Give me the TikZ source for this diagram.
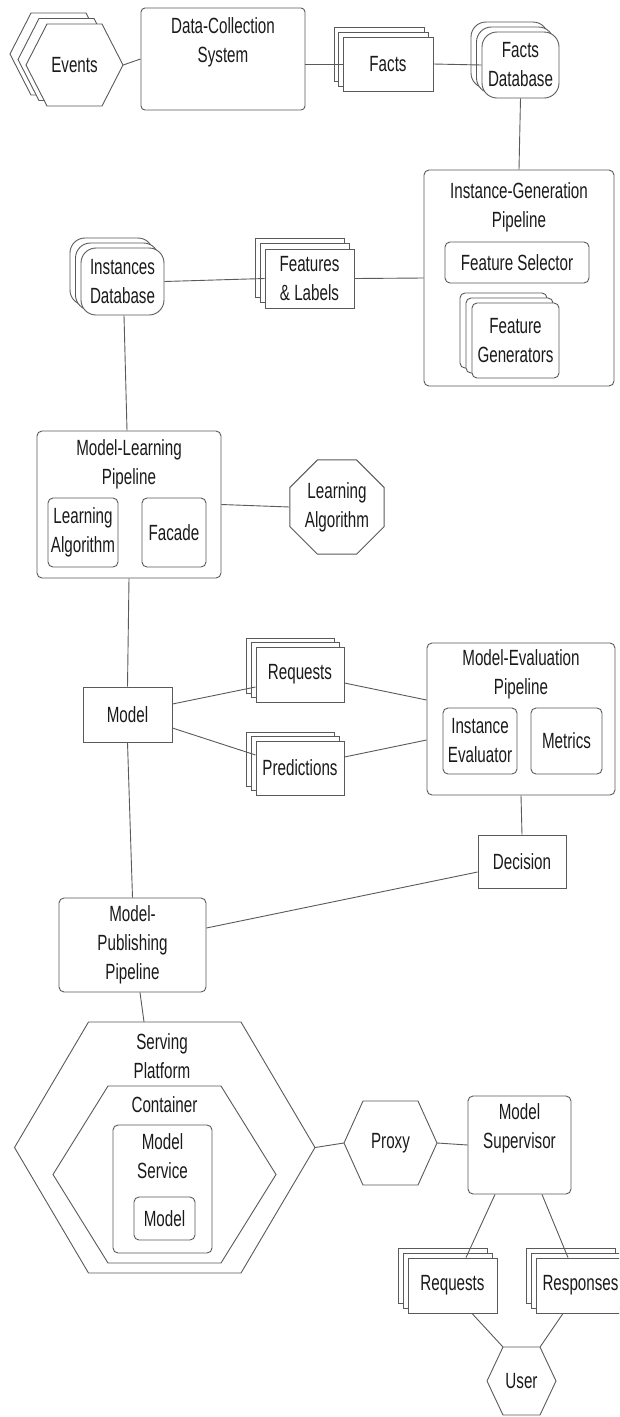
\documentclass[tikz,border=0pt]{standalone}
\usepackage{fontspec}
\setmainfont{Liberation Sans}[FakeStretch=0.69]
\usetikzlibrary{shapes.geometric,shadows}

\definecolor{linecol}{HTML}{5A5A5A}
\definecolor{inkcol}{HTML}{1A1A1A}

% hexagon outline: centre x, centre y, width, height, corner inset
\newcommand\hexagonat[5]{%
  \draw[draw=linecol, line width=0.9pt, fill=white]
    ({#1-#3/2},{#2}) -- ({#1-#3/2+#5},{#2-#4/2}) -- ({#1+#3/2-#5},{#2-#4/2})
    -- ({#1+#3/2},{#2}) -- ({#1+#3/2-#5},{#2+#4/2}) -- ({#1-#3/2+#5},{#2+#4/2}) -- cycle;}

\begin{document}
\begin{tikzpicture}[x=1pt,y=-1pt,
  every node/.style={font=\fontsize{22}{29}\selectfont, text=inkcol, align=center, inner sep=0pt},
  conn/.style={draw=linecol, line width=0.9pt},
  sq/.style 2 args={draw=linecol, line width=0.9pt, fill=white, minimum width=#1pt, minimum height=#2pt},
  rbox/.style 2 args={sq={#1}{#2}, rounded corners=5pt},
  dbase/.style 2 args={sq={#1}{#2}, rounded corners=15pt},
  stack/.style n args={4}{
    copy shadow={shadow xshift=#3, shadow yshift=#4, fill=white, draw=linecol, line width=0.9pt},
    copy shadow={shadow xshift=#1, shadow yshift=#2, fill=white, draw=linecol, line width=0.9pt}},
  hexcore/.style 2 args={minimum width=#1pt, minimum height=#2pt},
]
\useasboundingbox (0,0) rectangle (619,1417);
\fill[white] (0,0) rectangle (619,1417);
\clip (0,0) rectangle (619,1417);

% --- data collection -------------------------------------------------
\hexagonat{58.5}{54}{97}{82}{21}
\hexagonat{66.5}{59.5}{97}{82}{21}
\hexagonat{74.5}{65}{97}{82}{21}
\node[hexcore={97}{82}] (events) at (74.5,65) {Events};

\node[rbox={164}{102}, rounded corners=4pt] (dcs) at (223,59) {};
\node (dcstitle) at (223,42.5) {Data-Collection\\System};

\node[sq={90}{54}, stack={-4.5pt}{5pt}{-9pt}{10pt}] (facts) at (388,64) {Facts};
\node[dbase={77}{66}, stack={-5.5pt}{5pt}{-11pt}{10pt}] (factsdb) at (520.5,65) {Facts\\Database};

% --- instance generation ---------------------------------------------
\node[rbox={190}{216}] (igp) at (519,278) {};
\node (igtitle) at (519,207.5) {Instance-Generation\\Pipeline};
\node[rbox={144}{41}] (fsel) at (517,262.5) {Feature Selector};
\node[rbox={87}{75}, stack={-6pt}{5pt}{-12pt}{10pt}] (fgen) at (515.5,340.5) {Feature\\Generators};

\node[dbase={83}{67}, stack={-5.5pt}{5pt}{-11pt}{10pt}] (idb) at (122.5,281.5) {Instances\\Database};
\node[sq={89}{59}, stack={-5pt}{5.5pt}{-10pt}{11pt}] (feat) at (309.5,278.5) {Features\\\& Labels};

% --- model learning --------------------------------------------------
\node[rbox={184}{147}] (mlp) at (129,504.5) {};
\node (mltitle) at (129,464) {Model-Learning\\Pipeline};
\node[rbox={70}{69}] (mlalgo) at (83,532.5) {Learning\\Algorithm};
\node[rbox={64}{69}] (facade) at (174,532.5) {Facade};

\node[draw=linecol, line width=0.9pt, regular polygon, regular polygon sides=8,
      minimum size=102pt] (algo) at (337,507) {Learning\\Algorithm};

\node[sq={89}{55}] (model) at (127.5,714.5) {Model};

% --- model evaluation ------------------------------------------------
\node[sq={88}{55}, stack={-5pt}{4.5pt}{-10pt}{9pt}] (evreq) at (300,674.5) {Requests};
\node[sq={88}{54}, stack={-5pt}{4.5pt}{-10pt}{9pt}] (evpred) at (300,768) {Predictions};

\node[rbox={188}{152}] (mep) at (521,719) {};
\node (metitle) at (521,674) {Model-Evaluation\\Pipeline};
\node[rbox={74}{66}] (ieval) at (480,741) {Instance\\Evaluator};
\node[rbox={71}{66}] (metrics) at (566.5,741) {Metrics};

\node[sq={88}{53}] (decision) at (522,861.5) {Decision};

\node[rbox={147}{94}] (mpp) at (132.5,945) {Model-\\Publishing\\Pipeline};

% --- serving ---------------------------------------------------------
\hexagonat{164.75}{1147.5}{300.5}{251}{74}
\node[hexcore={300.5}{251}] (serving) at (164.75,1147.5) {};
\node (servtitle) at (162,1056.5) {Serving\\Platform};
\hexagonat{164.5}{1174.5}{223}{177}{55}
\node[hexcore={223}{177}] (container) at (164.5,1174.5) {};
\node (conttitle) at (164.5,1105) {Container};
\node[rbox={99}{128}] (msvc) at (162.5,1189) {};
\node (msvctitle) at (162.5,1156) {Model\\Service};
\node[rbox={61}{43}] (smodel) at (164.5,1218.5) {Model};

\hexagonat{390.5}{1143}{93}{84}{19}
\node[hexcore={93}{84}] (proxy) at (390.5,1143) {Proxy};

\node[rbox={103}{98}] (msup) at (519.5,1145) {};
\node (msuptitle) at (519.5,1128.5) {Model\\Supervisor};

\node[sq={89}{55}, stack={-5pt}{5pt}{-10pt}{10pt}] (usreq) at (452.5,1285.5) {Requests};
\node[sq={89}{55}, stack={-5pt}{5pt}{-10pt}{10pt}] (usresp) at (580.5,1285.5) {Responses};

\hexagonat{521.5}{1381}{69}{68}{16}
\node[hexcore={69}{68}] (user) at (521.5,1381) {User};

% --- connectors ------------------------------------------------------
\draw[conn] (events.east) -- (dcs.west);
\draw[conn] (dcs.east |- facts.west) -- (facts.west);
\draw[conn] (facts.east) -- (factsdb.west);
\draw[conn] (factsdb.south) -- (igp.north);
\draw[conn] (idb.east) -- (feat.west);
\draw[conn] (feat.east) -- (igp.west);
\draw[conn] ([xshift=1.5pt]idb.south) -- ([xshift=-2pt]mlp.north);
\draw[conn] (mlp.east) -- (algo.west);
\draw[conn] (mlp.south) -- (model.north);
\draw[conn] ([yshift=10.5pt]model.east) -- ([yshift=-12.5pt]evreq.west);
\draw[conn] ([yshift=-13.5pt]model.east) -- ([yshift=13pt]evpred.west);
\draw[conn] ([yshift=-8.5pt]evreq.east) -- ([yshift=19pt]mep.west);
\draw[conn] ([yshift=11pt]evpred.east) -- ([yshift=-21pt]mep.west);
\draw[conn] (mep.south) -- (decision.north);
\draw[conn] ([yshift=-10.5pt]decision.west) -- ([yshift=17pt]mpp.east);
\draw[conn] (model.south) -- (mpp.north);
\draw[conn] ([xshift=7.5pt]mpp.south) -- ([xshift=-20.75pt]serving.north);
\draw[conn] (serving.east) -- (proxy.west);
\draw[conn] (proxy.east) -- (msup.west);
\draw[conn] ([xshift=-24.5pt]msup.south) -- ([xshift=13.5pt]usreq.north);
\draw[conn] ([xshift=22.5pt]msup.south) -- ([xshift=-12.5pt]usresp.north);
\draw[conn] ([xshift=19.5pt]usreq.south) -- ([xshift=16pt]user.north west);
\draw[conn] ([xshift=-17.5pt]usresp.south) -- ([xshift=-16pt]user.north east);
\end{tikzpicture}
\end{document}
